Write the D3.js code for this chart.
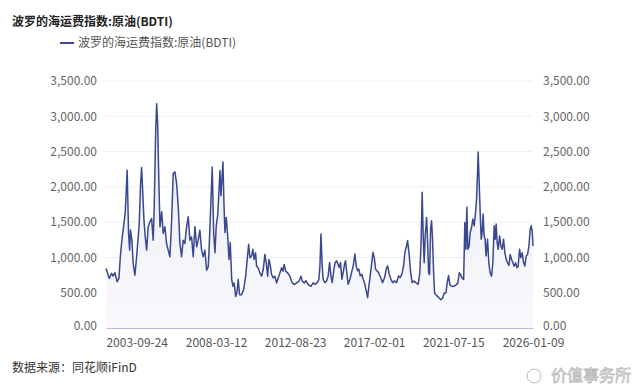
<!DOCTYPE html>
<html>
<head>
<meta charset="utf-8">
<script src="https://cdn.jsdelivr.net/npm/d3@7"></script>
<style>
  body { margin: 0; background: #fff; }
  svg text { font-family: "Noto Sans CJK SC", "Noto Sans", sans-serif; }
</style>
</head>
<body>
<div id="chart"></div>
<script>
// BDTI weekly-ish samples
var dates = [
  "2002-01-01","2002-03-08","2002-04-26","2002-05-28","2002-07-03","2002-08-19","2002-09-23","2002-10-28","2002-12-01",
  "2003-01-05","2003-02-01","2003-02-15","2003-03-12","2003-04-10","2003-05-01","2003-05-20","2003-06-17","2003-07-13",
  "2003-08-18","2003-09-22","2003-10-25","2003-11-15","2003-12-13","2004-01-03","2004-01-24","2004-02-20","2004-03-17",
  "2004-04-15","2004-05-17","2004-06-21","2004-07-26","2004-08-28","2004-09-18","2004-10-17","2004-11-07","2004-11-27",
  "2004-12-17","2005-01-14","2005-02-18","2005-03-21","2005-04-25","2005-05-30","2005-07-02","2005-08-06","2005-09-11",
  "2005-10-13","2005-11-18","2005-12-22","2006-01-25","2006-02-28","2006-04-03","2006-05-06","2006-06-10","2006-07-15",
  "2006-08-17","2006-09-21","2006-10-26","2006-11-28","2007-01-03","2007-02-07","2007-03-10","2007-04-14","2007-05-19",
  "2007-06-21","2007-07-26","2007-08-30","2007-10-02","2007-10-16","2007-11-21","2007-12-24","2008-01-22","2008-02-18",
  "2008-03-15","2008-04-13","2008-05-09","2008-05-30","2008-06-20","2008-07-10","2008-07-31","2008-08-20","2008-09-10",
  "2008-10-07","2008-11-05","2008-12-02","2008-12-28","2009-01-27","2009-02-23","2009-03-19","2009-04-17","2009-05-14",
  "2009-06-10","2009-07-08","2009-08-19","2009-09-29","2009-11-10","2009-12-12","2010-01-10","2010-02-06","2010-03-11",
  "2010-04-07","2010-05-04","2010-06-02","2010-06-22","2010-07-25","2010-08-29","2010-10-03","2010-11-06","2010-12-10",
  "2011-01-06","2011-02-05","2011-03-02","2011-03-28","2011-04-26","2011-05-29","2011-07-03","2011-08-07","2011-09-10",
  "2011-10-14","2011-11-19","2011-12-15","2012-01-11","2012-02-09","2012-03-20","2012-05-07","2012-06-23","2012-08-04",
  "2012-09-22","2012-11-09","2012-12-20","2013-01-16","2013-02-26","2013-04-01","2013-05-18","2013-07-12","2013-08-29",
  "2013-10-03","2013-11-20","2013-12-24","2014-01-14","2014-02-04","2014-03-01","2014-03-21","2014-04-26","2014-05-30",
  "2014-07-02","2014-08-01","2014-08-27","2014-09-23","2014-10-28","2014-11-24","2014-12-22","2015-01-19","2015-02-15",
  "2015-03-13","2015-04-10","2015-05-06","2015-06-04","2015-06-24","2015-07-15","2015-08-17","2015-09-22","2015-10-26",
  "2015-11-29","2016-01-03","2016-01-29","2016-02-27","2016-03-24","2016-04-20","2016-05-25","2016-06-21","2016-07-26",
  "2016-08-30","2016-09-20","2016-10-16","2016-11-12","2016-12-11","2017-01-07","2017-02-03","2017-03-02","2017-03-28",
  "2017-05-03","2017-06-13","2017-07-24","2017-09-04","2017-10-07","2017-11-05","2017-12-08","2018-01-12","2018-02-16",
  "2018-03-27","2018-05-08","2018-06-18","2018-07-20","2018-08-25","2018-09-29","2018-10-26","2018-11-22","2018-12-20",
  "2019-01-17","2019-02-21","2019-03-24","2019-04-28","2019-06-08","2019-07-25","2019-08-29","2019-09-25","2019-10-16",
  "2019-11-06","2019-11-26","2019-12-17","2020-01-15","2020-02-05","2020-02-25","2020-03-16","2020-04-06","2020-04-26",
  "2020-05-16","2020-06-07","2020-06-27","2020-07-24","2020-08-28","2020-09-30","2020-11-04","2020-12-09","2021-01-11",
  "2021-02-15","2021-03-12","2021-04-10","2021-05-07","2021-06-11","2021-07-28","2021-09-14","2021-10-19","2021-11-15",
  "2021-12-13","2022-01-10","2022-02-14","2022-03-10","2022-04-01","2022-04-21","2022-05-11","2022-06-07","2022-06-28",
  "2022-07-26","2022-08-22","2022-09-18","2022-10-17","2022-11-07","2022-11-27","2022-12-09","2022-12-30","2023-01-20",
  "2023-02-10","2023-03-01","2023-03-21","2023-04-11","2023-05-01","2023-05-21","2023-06-20","2023-07-16","2023-08-12",
  "2023-09-10","2023-10-07","2023-11-03","2023-11-24","2023-12-14","2024-01-04","2024-01-25","2024-02-23","2024-03-19",
  "2024-04-15","2024-05-14","2024-06-10","2024-07-06","2024-08-05","2024-09-01","2024-09-28","2024-10-26","2024-11-22",
  "2024-12-19","2025-01-17","2025-02-13","2025-03-10","2025-04-08","2025-05-04","2025-06-01","2025-06-30","2025-07-26",
  "2025-08-22","2025-09-20","2025-10-17","2025-11-13","2025-12-03","2025-12-23","2026-01-09"
];
var values = [
  844,703,774,736,783,656,703,1057,1292,
  1481,1646,1858,2236,1340,1104,1387,1245,915,
  750,1009,1292,1481,2047,2274,1953,1528,1292,
  1104,1434,1505,1552,1245,1717,2755,3179,2896,
  2236,1434,1646,1340,1434,1198,1104,1009,1528,
  2189,2212,2047,1717,1198,1009,1245,1198,1434,
  1575,1245,1292,1009,1434,1151,1245,1387,1104,
  1009,1104,820,868,1040,1686,2281,1353,1067,
  1448,1591,1924,2233,1876,2114,2352,1781,1353,
  1567,1305,972,1210,686,591,639,448,496,
  686,472,472,544,734,972,1186,996,1020,
  1115,972,1067,877,853,781,734,829,1043,
  924,734,972,901,758,710,734,639,710,
  781,853,805,901,805,781,734,639,615,
  639,663,734,663,639,672,615,591,639,
  619,643,691,881,1333,881,691,643,667,
  738,929,738,643,834,929,953,905,857,
  929,691,786,905,953,810,619,691,786,
  881,1048,881,810,834,738,762,691,619,
  500,429,596,738,905,1072,1000,834,810,
  786,715,643,715,834,881,762,691,643,
  667,643,738,715,762,881,1072,1143,1238,
  1072,786,643,667,643,619,782,1258,1924,
  1305,924,1305,1567,1210,782,758,1400,1519,
  1258,782,496,472,448,425,401,425,496,
  496,639,744,615,591,591,615,639,782,
  758,710,686,1496,1115,1710,1115,1162,1353,
  1424,1543,1448,1638,1829,2210,2495,2067,1638,
  1258,1353,1615,1305,1258,1020,1258,924,782,
  734,924,1448,1258,1472,1210,1115,1305,1162,
  1115,1258,1067,972,924,886,1043,972,924,
  877,924,853,877,1115,996,1067,924,877,
  1020,1043,1162,1400,1448,1377,1162
];
var tickDates = ["2003-09-24","2008-03-12","2012-08-23","2017-02-01","2021-07-15","2026-01-09"];
var yTicks = [0, 500, 1000, 1500, 2000, 2500, 3000, 3500];
var seriesName = "波罗的海运费指数:原油(BDTI)";

var width = 640, height = 390,
    margin = { left: 106, right: 107, top: 81, bottom: 62 };

var parse = d3.timeParse("%Y-%m-%d");
var data = dates.map(function(d, i){ return [parse(d), values[i]]; });

function translate(x, y){ return "translate(" + x + "," + y + ")"; }

var innerW = width - margin.left - margin.right,
    innerH = height - margin.top - margin.bottom;

var xScale = d3.scaleTime()
    .domain([parse("2002-01-01"), parse("2026-01-09")])
    .range([0, innerW]);
var yScale = d3.scaleLinear()
    .domain([0, 3500])
    .range([innerH, 0]);

var svg = d3.select("#chart").append("svg")
    .attr("width", width)
    .attr("height", height);

svg.append("text")
    .attr("x", 12).attr("y", 26)
    .attr("font-size", 12).attr("font-weight", "bold").attr("fill", "#222")
    .text(seriesName);

// legend
svg.append("line")
    .attr("x1", 60).attr("x2", 74).attr("y1", 43).attr("y2", 43)
    .attr("stroke", "#3a4791").attr("stroke-width", 2);
svg.append("text")
    .attr("x", 78).attr("y", 47)
    .attr("font-size", 12).attr("fill", "#555")
    .text(seriesName);

var g = svg.append("g").attr("transform", translate(margin.left, margin.top));

// grid
g.append("g").selectAll("line")
    .data(yTicks.slice(1))
    .enter().append("line")
    .attr("x1", 0).attr("x2", innerW)
    .attr("y1", function(d){ return yScale(d); })
    .attr("y2", function(d){ return yScale(d); })
    .attr("stroke", "#eceef5");

var fmt = d3.format(",.2f");

var yLeft = d3.axisLeft(yScale).tickValues(yTicks).tickFormat(fmt).tickSize(0).tickPadding(9);
g.append("g").attr("class", "y-left").call(yLeft);
var yRight = d3.axisRight(yScale).tickValues(yTicks).tickFormat(fmt).tickSize(0).tickPadding(10);
g.append("g").attr("class", "y-right").attr("transform", translate(innerW, 0)).call(yRight);
g.selectAll(".y-left path, .y-right path").remove();
g.selectAll(".y-left text, .y-right text")
    .attr("font-size", 12).attr("fill", "#666")
    .attr("font-family", "'Noto Sans', sans-serif");
// keep bottom labels just above the axis so they clear the date labels
g.selectAll(".y-left .tick text, .y-right .tick text")
    .filter(function(d){ return d === 0; })
    .attr("dy", "0.1em");

// area + line
var area = d3.area()
    .x(function(d){ return xScale(d[0]); })
    .y0(innerH)
    .y1(function(d){ return yScale(d[1]); });
var line = d3.line()
    .x(function(d){ return xScale(d[0]); })
    .y(function(d){ return yScale(d[1]); });

var grad = svg.append("defs").append("linearGradient")
    .attr("id", "fillGrad").attr("x1", 0).attr("y1", 0).attr("x2", 0).attr("y2", 1);
grad.append("stop").attr("offset", "0%").attr("stop-color", "#eaebf5");
grad.append("stop").attr("offset", "100%").attr("stop-color", "#f9f9fc");

g.append("path").datum(data)
    .attr("d", area)
    .attr("fill", "url(#fillGrad)");
g.append("path").datum(data)
    .attr("d", line)
    .attr("fill", "none")
    .attr("stroke", "#3a4791")
    .attr("stroke-width", 1.5)
    .attr("stroke-linejoin", "round");

// x axis
var xAxis = d3.axisBottom(xScale)
    .tickValues(tickDates.map(parse))
    .tickFormat(d3.timeFormat("%Y-%m-%d"))
    .tickSize(0).tickPadding(10);
var xg = g.append("g").attr("transform", translate(0, innerH)).call(xAxis);
xg.select("path").attr("stroke", "#b4bcd8");
xg.selectAll("text").attr("font-size", 12).attr("fill", "#555")
    .attr("font-family", "'Noto Sans', sans-serif");

// footer
svg.append("text")
    .attr("x", 12).attr("y", 372)
    .attr("font-size", 12).attr("fill", "#333")
    .text("数据来源：同花顺iFinD");

svg.append("text")
    .attr("x", 631).attr("y", 381).attr("text-anchor", "end")
    .attr("font-size", 16).attr("fill", "#fff")
    .attr("stroke", "#bbb").attr("stroke-width", 0.8)
    .text("价值事务所");
svg.append("circle")
    .attr("cx", 534).attr("cy", 376).attr("r", 7)
    .attr("fill", "#fff").attr("stroke", "#bbb").attr("stroke-width", 1);
</script>
</body>
</html>
